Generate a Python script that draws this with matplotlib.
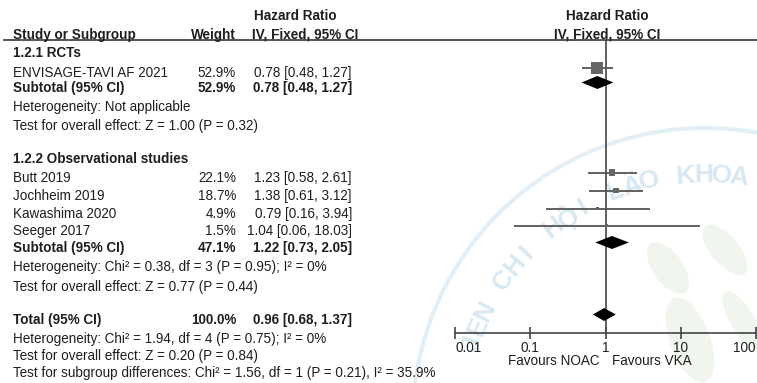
import numpy as np
import matplotlib
matplotlib.use("Agg")
import matplotlib.pyplot as plt
from matplotlib.patches import Ellipse
from matplotlib.ticker import NullLocator, FixedLocator, FixedFormatter

plt.rcParams['font.family'] = ['Liberation Sans', 'DejaVu Sans']

# ---- data -------------------------------------------------------------
rct_label = "1.2.1 RCTs"
rct_names = ["ENVISAGE-TAVI AF 2021"]
rct_weight = [52.9]
rct_hr = [0.78]
rct_lo = [0.48]
rct_hi = [1.27]

obs_label = "1.2.2 Observational studies"
obs_names = ["Butt 2019", "Jochheim 2019", "Kawashima 2020", "Seeger 2017"]
obs_weight = [22.1, 18.7, 4.9, 1.5]
obs_hr = [1.23, 1.38, 0.79, 1.04]
obs_lo = [0.58, 0.61, 0.16, 0.06]
obs_hi = [2.61, 3.12, 3.94, 18.03]

subtotal_weight = [52.9, 47.1]
subtotal_hr = [0.78, 1.22]
subtotal_lo = [0.48, 0.73]
subtotal_hi = [1.27, 2.05]

total_weight = 100.0
total_hr = 0.96
total_lo = 0.68
total_hi = 1.37

rct_stats = ["Heterogeneity: Not applicable",
             "Test for overall effect: Z = 1.00 (P = 0.32)"]
obs_stats = ["Heterogeneity: Chi\u00b2 = 0.38, df = 3 (P = 0.95); I\u00b2 = 0%",
             "Test for overall effect: Z = 0.77 (P = 0.44)"]
total_stats = ["Heterogeneity: Chi\u00b2 = 1.94, df = 4 (P = 0.75); I\u00b2 = 0%",
               "Test for overall effect: Z = 0.20 (P = 0.84)",
               "Test for subgroup differences: Chi\u00b2 = 1.56, df = 1 (P = 0.21), I\u00b2 = 35.9%"]

axis_ticks = [0.01, 0.1, 1, 10, 100]
axis_labels = ["0.01", "0.1", "1", "10", "100"]
favours_left = "Favours NOAC"
favours_right = "Favours VKA"

# ---- layout (pixels) ---------------------------------------------------
W, H = 757, 383
FS = 9.75
TXT = '#1e1e1e'
LINE = '#444444'
X_NAME, X_WEIGHT, X_CI = 13, 236, 352
AX_LEFT, AX_RIGHT, AX_TOP, AX_BOTTOM = 455, 756, 40, 333

fig = plt.figure(figsize=(W / 100, H / 100), dpi=100)
bg = fig.add_axes([0, 0, 1, 1])
bg.set_xlim(0, W)
bg.set_ylim(H, 0)
bg.axis('off')

# faint logo watermark behind the plot
cx, cy = 705, 420
phi = np.radians(np.linspace(60, 185, 200))
bg.plot(cx + 292 * np.cos(phi), cy - 292 * np.sin(phi), color='#e2eff7', lw=3, zorder=0)
wm = "JEN CHI H\u1ed8I L\u00c3O KHOA"
for ch, a in zip(wm, np.linspace(162, 82, len(wm))):
    bg.text(cx + 245 * np.cos(np.radians(a)), cy - 245 * np.sin(np.radians(a)), ch,
            rotation=a - 90, fontsize=19, fontweight='bold', color='#d8e8f3',
            ha='center', va='center', zorder=0)
for (ex, ey, ew, eh, ang) in [(668, 268, 30, 60, -35), (725, 250, 28, 62, -40),
                              (690, 340, 40, 90, -20), (742, 320, 24, 66, -30)]:
    bg.add_patch(Ellipse((ex, ey), ew, eh, angle=ang, color='#f0f6ed', zorder=0, lw=0))


def put(x, y, s, ha='left', bold=False, size=FS):
    bg.text(x, y + 4.7, s, ha=ha, va='baseline', fontsize=size,
            fontweight='bold' if bold else 'normal', color=TXT, zorder=3)


def fmt_ci(hr, lo, hi):
    return f"{hr:.2f} [{lo:.2f}, {hi:.2f}]"


# headers
put(295, 15, "Hazard Ratio", ha='center', bold=True)
put(607, 15, "Hazard Ratio", ha='center', bold=True)
put(X_NAME, 34, "Study or Subgroup", bold=True)
put(X_WEIGHT, 34, "Weight", ha='right', bold=True)
put(305, 34, "IV, Fixed, 95% CI", ha='center', bold=True)
put(607, 34, "IV, Fixed, 95% CI", ha='center', bold=True)
bg.plot([4, W], [AX_TOP, AX_TOP], color=LINE, lw=1.3, zorder=2)

# left-hand table
put(X_NAME, 52, rct_label, bold=True)
rct_rows = [72]
for y, n, w, h, lo, hi in zip(rct_rows, rct_names, rct_weight, rct_hr, rct_lo, rct_hi):
    put(X_NAME, y, n)
    put(X_WEIGHT, y, f"{w:.1f}%", ha='right')
    put(X_CI, y, fmt_ci(h, lo, hi), ha='right')
sub_rows = [87, 247]
put(X_NAME, 106, rct_stats[0])
put(X_NAME, 125, rct_stats[1])

put(X_NAME, 158, obs_label, bold=True)
obs_rows = [177, 195, 213, 230]
for y, n, w, h, lo, hi in zip(obs_rows, obs_names, obs_weight, obs_hr, obs_lo, obs_hi):
    put(X_NAME, y, n)
    put(X_WEIGHT, y, f"{w:.1f}%", ha='right')
    put(X_CI, y, fmt_ci(h, lo, hi), ha='right')
put(X_NAME, 266, obs_stats[0])
put(X_NAME, 286, obs_stats[1])

for y, w, h, lo, hi in zip(sub_rows, subtotal_weight, subtotal_hr, subtotal_lo, subtotal_hi):
    put(X_NAME, y, "Subtotal (95% CI)", bold=True)
    put(X_WEIGHT, y, f"{w:.1f}%", ha='right', bold=True)
    put(X_CI, y, fmt_ci(h, lo, hi), ha='right', bold=True)

total_row = 319
put(X_NAME, total_row, "Total (95% CI)", bold=True)
put(X_WEIGHT, total_row, f"{total_weight:.1f}%", ha='right', bold=True)
put(X_CI, total_row, fmt_ci(total_hr, total_lo, total_hi), ha='right', bold=True)
for y, s in zip([338, 355, 372], total_stats):
    put(X_NAME, y, s)

# ---- forest plot -------------------------------------------------------
fa = fig.add_axes([AX_LEFT / W, (H - AX_BOTTOM) / H,
                   (AX_RIGHT - AX_LEFT) / W, (AX_BOTTOM - AX_TOP) / H])
fa.set_xscale('log')
fa.set_xlim(axis_ticks[0], axis_ticks[-1])
fa.set_ylim(AX_BOTTOM, AX_TOP)
fa.patch.set_visible(False)
for sp in ['top', 'left', 'right']:
    fa.spines[sp].set_visible(False)
fa.spines['bottom'].set_color(LINE)
fa.spines['bottom'].set_linewidth(1.2)
fa.xaxis.set_major_locator(FixedLocator(axis_ticks))
fa.xaxis.set_major_formatter(FixedFormatter(axis_labels))
fa.xaxis.set_minor_locator(NullLocator())
fa.set_yticks([])
fa.tick_params(axis='x', direction='inout', length=9, width=1.2, color=LINE,
               labelsize=FS, labelcolor=TXT, pad=1)
fig.canvas.draw()
tick_texts = fa.get_xticklabels()
tick_texts[0].set_ha('left')
tick_texts[-1].set_ha('right')
fa.axvline(1, color=LINE, lw=1.2, zorder=1)

OFF = 4.5  # plotted rows sit slightly above their text baseline rows
study_y = [r - OFF for r in rct_rows + obs_rows]
study_w = rct_weight + obs_weight
study_hr = rct_hr + obs_hr
study_lo = rct_lo + obs_lo
study_hi = rct_hi + obs_hi
fa.hlines(study_y, study_lo, study_hi, color='#555555', lw=1.3, zorder=2)
sides_px = [1.8 + 10.2 * w / rct_weight[0] for w in study_w]
fa.scatter(study_hr, study_y, marker='s', s=[(0.72 * s) ** 2 for s in sides_px],
           color='#666666', lw=0, zorder=3)


def diamond(y, est, lo, hi):
    fa.fill([lo, est, hi, est], [y, y - 6.5, y, y + 6.5], color='black', lw=0, zorder=3)


for y, h, lo, hi in zip(sub_rows, subtotal_hr, subtotal_lo, subtotal_hi):
    diamond(y - OFF, h, lo, hi)
diamond(total_row - OFF, total_hr, total_lo, total_hi)

put(600, 360, favours_left, ha='right')
put(612, 360, favours_right, ha='left')

fig.savefig("out.png", dpi=100)
